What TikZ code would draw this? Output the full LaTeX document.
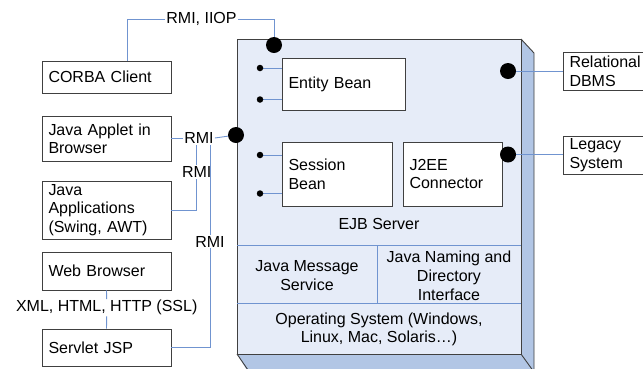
\documentclass[tikz,border=0pt]{standalone}
\usepackage{fontspec}
\setmainfont{Liberation Sans}
\definecolor{linkblue}{RGB}{112,148,208}
\definecolor{facefront}{RGB}{230,236,248}
\definecolor{faceside}{RGB}{178,198,229}
\definecolor{edgegray}{RGB}{64,64,64}
\begin{document}
\begin{tikzpicture}[x=1pt,y=-1pt,
  txt/.style={font=\fontsize{16}{18.8}\selectfont},
  box/.style={txt, draw=edgegray, line width=0.9pt, fill=white, inner xsep=6.5pt, inner ysep=0pt, align=left},
  lbl/.style={txt, inner sep=1pt},
  link/.style={draw=linkblue, line width=0.9pt},
  bigdot/.style={circle, fill=black, inner sep=0pt, minimum size=16pt},
  smalldot/.style={circle, fill=black, inner sep=0pt, minimum size=6.5pt},
  edge/.style={draw=edgegray, line width=0.9pt}]
\useasboundingbox (0,0) rectangle (643,368);

% EJB server housing: front face, side and bottom bevels
\fill[faceside] (521,39) -- (534,53) -- (534,372) -- (521,354) -- cycle;
\fill[faceside] (237,354) -- (521,354) -- (534,372) -- (248,372) -- cycle;
\filldraw[fill=facefront, edge] (237,39) rectangle (521,354);
\draw[edge] (521,39) -- (534,53) -- (534,372);
\draw[edge] (521,354) -- (534,372);
\draw[edge] (237,354) -- (248,370);

% service layers inside the server
\draw[link] (237,245) -- (521,245);
\draw[link] (377,245) -- (377,303);
\draw[link] (237,303) -- (521,303);
\node[txt] (ejb) at (379,224.3) {EJB Server};
\node[txt, align=center] (jms) at (307,275.5) {Java Message\\Service};
\node[txt, align=center] (jndi) at (449,275.7) {Java Naming and\\Directory\\Interface};
\node[txt, align=center] (os) at (379,329.3) {Operating System (Windows,\\Linux, Mac, Solaris\dots)};

% beans and connector
\node[box, text width=110pt, minimum height=52pt] (entity) at (343.5,84) {Entity Bean};
\node[box, text width=97pt, minimum height=64pt] (session) at (337,174) {Session\\Bean};
\node[box, text width=86pt, minimum height=64pt] (j2ee) at (452.5,174) {J2EE\\Connector};

% clients
\node[box, text width=116pt, minimum height=32pt] (corba) at (106.5,77) {CORBA Client};
\node[box, text width=116pt, minimum height=45pt] (applet) at (106.5,138.7) {Java Applet in\\Browser};
\node[box, text width=116pt, minimum height=58pt] (apps) at (106.5,210) {Java\\Applications\\(Swing, AWT)};
\node[box, text width=116pt, minimum height=38pt] (web) at (106.5,271) {Web Browser};
\node[box, text width=116pt, minimum height=37pt] (servlet) at (106.5,347.5) {Servlet JSP};

% back-end systems
\node[box, text width=69pt, minimum height=38pt] (rdbms) at (604,71) {Relational\\DBMS};
\node[box, text width=69pt, minimum height=38pt] (legacy) at (604,155) {Legacy\\System};

% connector labels
\node[lbl] (iiop) at (201.5,19) {RMI, IIOP};
\node[lbl] (rmi1) at (199,138) {RMI};
\node[lbl] (rmi2) at (196.7,172) {RMI};
\node[lbl] (rmi3) at (210,241.7) {RMI};
\node[lbl] (xml) at (106.7,307.7) {XML, HTML, HTTP (SSL)};

% connection points
\coordinate (dtop) at (274,45);
\coordinate (dleft) at (236,135);
\coordinate (dr1) at (508,71);
\coordinate (dr2) at (508,154.5);
\coordinate (e1) at (260,68);
\coordinate (e2) at (260,99.5);
\coordinate (s1) at (260,155);
\coordinate (s2) at (260,193.5);

% connectors
\draw[link] ([xshift=21.2pt]corba.north) |- (iiop.west);
\draw[link] (iiop.east) -| (dtop);
\draw[link] (applet.east |- rmi1) -- (rmi1.west);
\draw[link] (rmi1.east) -- (dleft);
\draw[link] (apps.east) -| (rmi2.south);
\draw[link] (rmi2.north) -- (rmi2.north |- rmi1.south);
\draw[link] (servlet.east) -| (rmi3.south);
\draw[link] (rmi3.north) -- (rmi3.north |- rmi1.south);
\draw[link] (web.south) -- (xml.north);
\draw[link] (xml.south) -- (servlet.north);
\draw[link] (dr1) -- (dr1 -| rdbms.west);
\draw[link] (dr2) -- (dr2 -| legacy.west);
\draw[link] (e1) -- (e1 -| entity.west);
\draw[link] (e2) -- (e2 -| entity.west);
\draw[link] (s1) -- (s1 -| session.west);
\draw[link] (s2) -- (s2 -| session.west);

% dots drawn over the line ends
\foreach \p in {dtop,dleft,dr1,dr2} \node[bigdot] at (\p) {};
\foreach \p in {e1,e2,s1,s2} \node[smalldot] at (\p) {};
\end{tikzpicture}
\end{document}
